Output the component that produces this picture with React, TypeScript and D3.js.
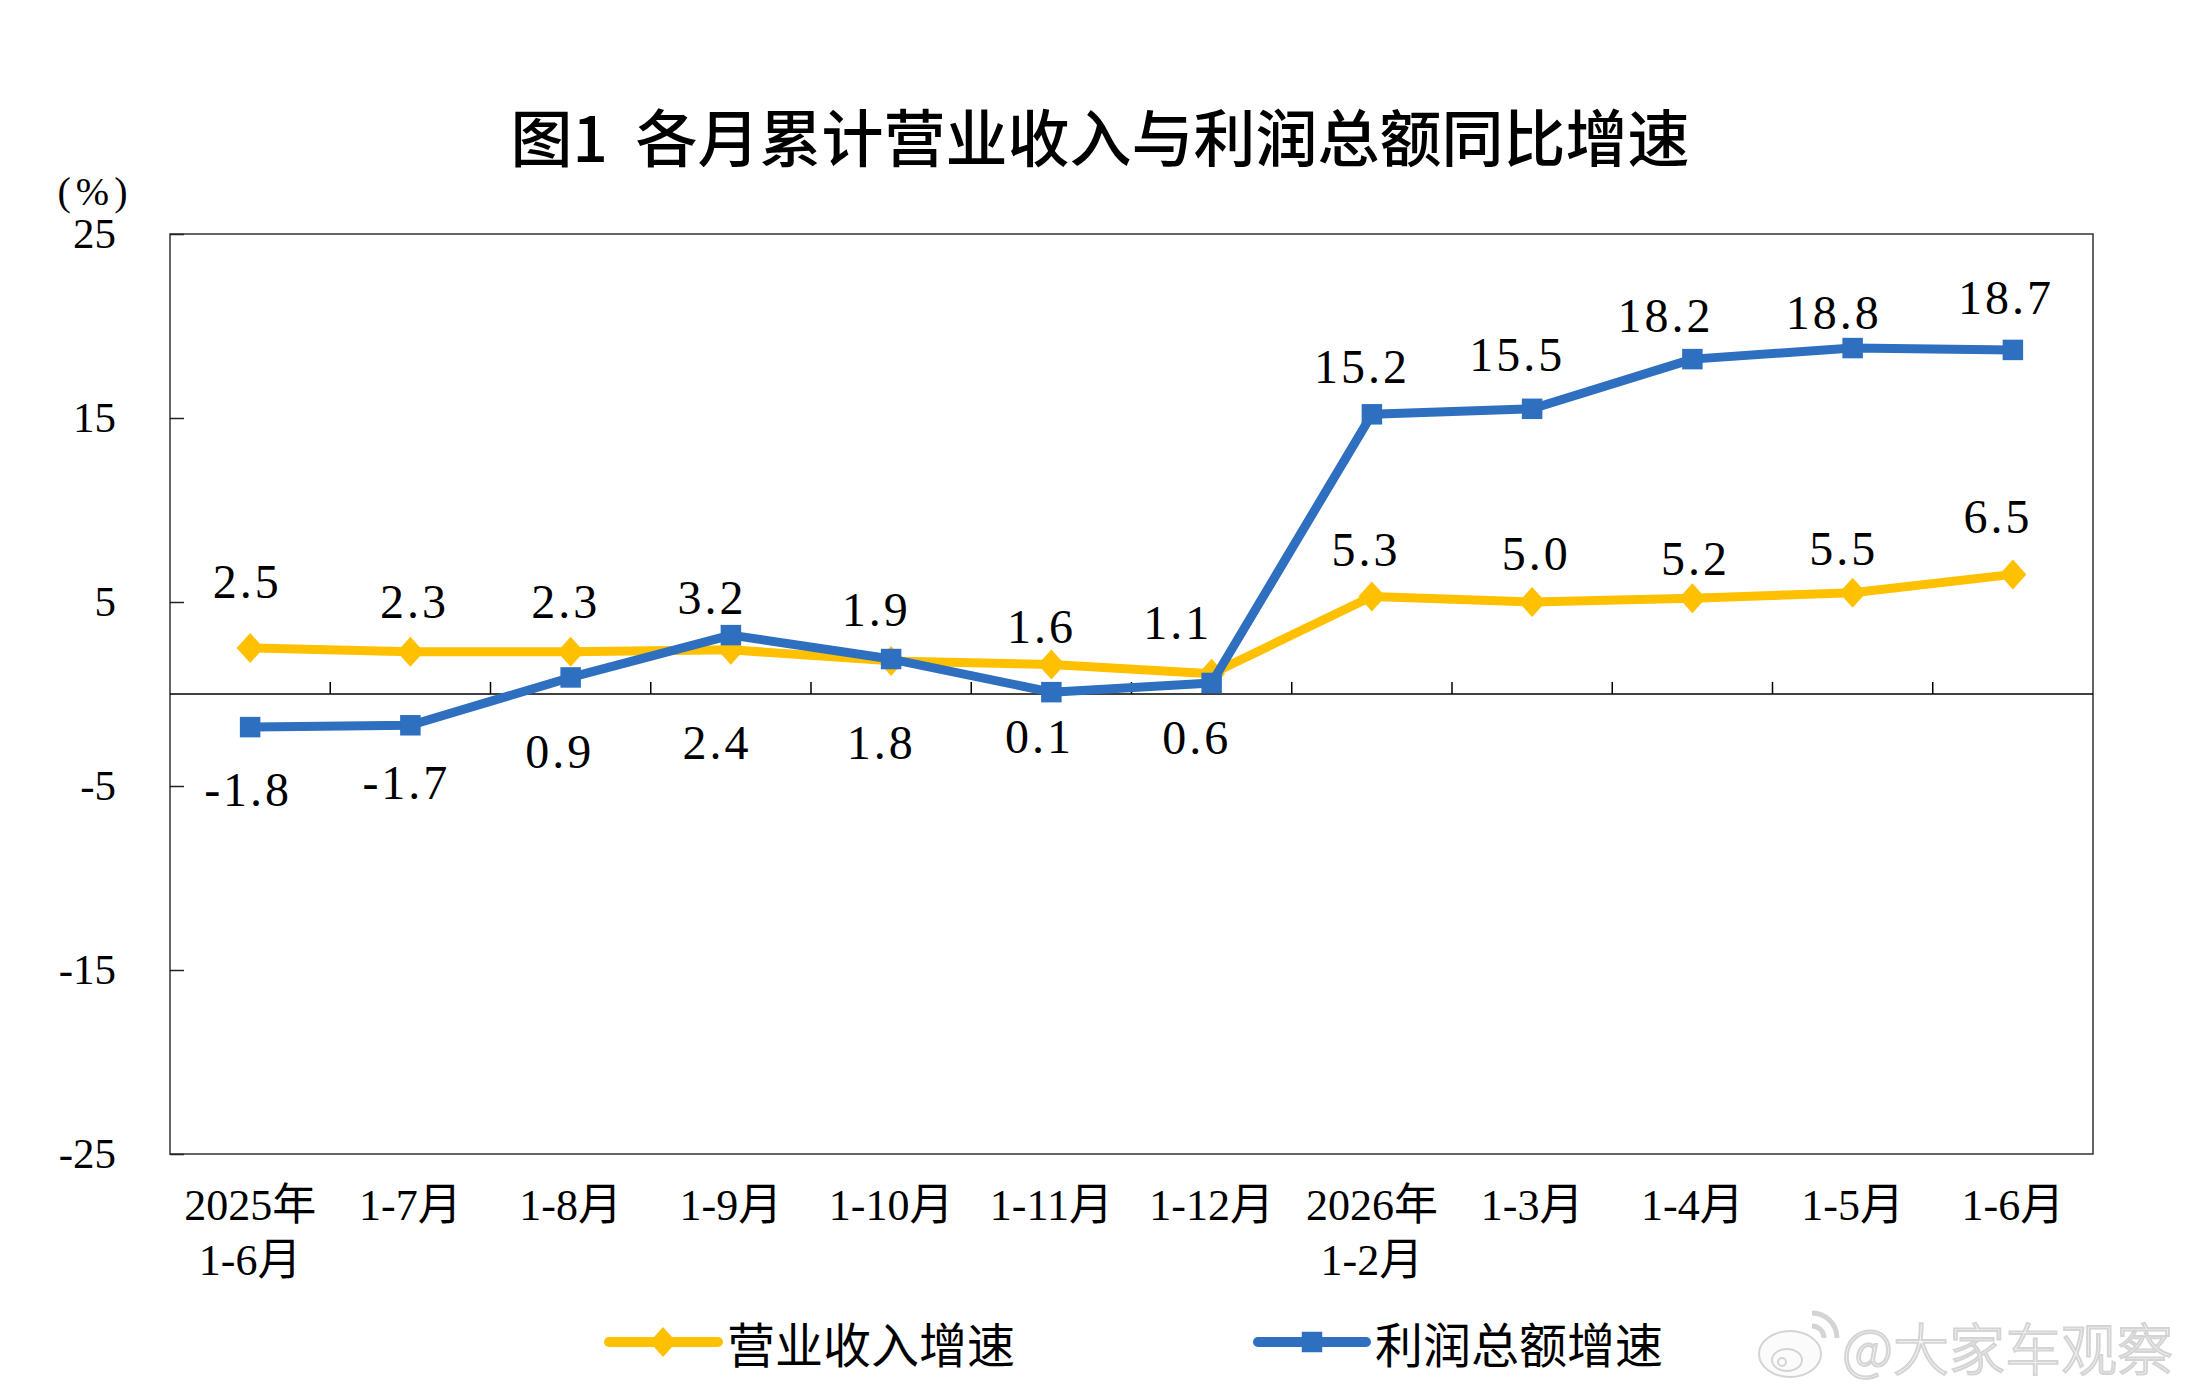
import * as d3 from "d3";
import { useEffect, useRef } from "react";

const width = 2195;
const height = 1399;

const categories = [
  "2025年\n1-6月",
  "1-7月",
  "1-8月",
  "1-9月",
  "1-10月",
  "1-11月",
  "1-12月",
  "2026年\n1-2月",
  "1-3月",
  "1-4月",
  "1-5月",
  "1-6月",
];
const revenueGrowth = [2.5, 2.3, 2.3, 2.4, 1.8, 1.6, 1.1, 5.3, 5.0, 5.2, 5.5, 6.5];
const profitGrowth = [-1.8, -1.7, 0.9, 3.2, 1.9, 0.1, 0.6, 15.2, 15.5, 18.2, 18.8, 18.7];
const yTicks = [-25, -15, -5, 5, 15, 25];
const seriesNames = ["营业收入增速", "利润总额增速"];

// label nudges (dx, dy from the point), placed by hand like the original
const revenueLabelNudge = [
  [-3, -66], [4, -50], [-5, -50], [-14, 93], [-10, 82], [-10, -38],
  [-34, -51], [-6, -46], [4, -48], [3, -39], [-9, -44], [-15, -57],
];
const profitLabelNudge = [
  [-2, 63], [-4, 58], [-11, 75], [-19, -37], [-15, -49], [-12, 45],
  [-15, 55], [-10, -47], [-15, -54], [-27, -43], [-19, -35], [-7, -52],
];

const plot = { left: 170, right: 2093, top: 234, bottom: 1154 };
const yellow = "#FFC000";
const blue = "#2E6FBF";
const serif = "'Liberation Serif', 'Times New Roman', serif";
const cjk = "'Noto Sans CJK SC', sans-serif";

const diamond = "M0,-15L13.5,0L0,15L-13.5,0Z";

export default function App() {
  const yAxisRef = useRef<SVGGElement>(null);

  const x = d3
    .scaleBand<number>()
    .domain(d3.range(categories.length))
    .range([plot.left, plot.right]);
  const y = d3.scaleLinear().domain([-25, 25]).range([plot.bottom, plot.top]);
  const cx = (i: number) => (x(i) as number) + x.bandwidth() / 2;

  const line = d3
    .line<number>()
    .x((_, i) => cx(i))
    .y((d) => y(d));

  const square = d3.symbol(d3.symbolSquare, 420)() as string;

  useEffect(() => {
    const axis = d3
      .axisLeft(y)
      .tickValues(yTicks)
      .tickSizeInner(-14)
      .tickSizeOuter(0)
      .tickPadding(54)
      .tickFormat((d) => String(d));
    const g = d3.select(yAxisRef.current!);
    g.call(axis);
    g.select(".domain").remove();
    g.attr("font-family", serif).attr("font-size", 43);
    g.selectAll(".tick line").attr("stroke", "#222").attr("stroke-width", 1.5);
    g.selectAll(".tick text").attr("fill", "#000");
  }, []);

  const y0 = y(0);

  return (
    <div>
      <style>{`body{margin:0;background:#fff}`}</style>
      <svg width={width} height={height} style={{ display: "block" }}>
        <rect width={width} height={height} fill="#fff" />

        <text
          x={1100}
          y={135}
          textAnchor="middle"
          dominantBaseline="central"
          fontFamily={cjk}
          fontWeight={500}
          fontSize={62}
          style={{ whiteSpace: "pre" }}
        >
          {"图1  各月累计营业收入与利润总额同比增速"}
        </text>

        <text
          x={95}
          y={205}
          textAnchor="middle"
          fontFamily={serif}
          fontSize={40}
          letterSpacing={5}
        >
          (%)
        </text>

        <rect
          x={plot.left}
          y={plot.top}
          width={plot.right - plot.left}
          height={plot.bottom - plot.top}
          fill="none"
          stroke="#333"
          strokeWidth={1.5}
        />
        <g ref={yAxisRef} transform={`translate(${plot.left},0)`} />

        <line x1={plot.left} x2={plot.right} y1={y0} y2={y0} stroke="#000" strokeWidth={1.5} />
        {d3.range(1, categories.length).map((i) => (
          <line
            key={i}
            x1={x(i)}
            x2={x(i)}
            y1={y0}
            y2={y0 - 12}
            stroke="#000"
            strokeWidth={1.5}
          />
        ))}

        {categories.map((c, i) => (
          <text
            key={c}
            x={cx(i)}
            y={1220}
            textAnchor="middle"
            fontFamily={`${serif.split(",")[0]}, ${cjk}`}
            fontSize={44}
          >
            {c.split("\n").map((part, j) => (
              <tspan key={j} x={cx(i)} dy={j === 0 ? 0 : 55}>
                {part}
              </tspan>
            ))}
          </text>
        ))}

        <path d={line(revenueGrowth) as string} fill="none" stroke={yellow} strokeWidth={9} strokeLinejoin="round" />
        {revenueGrowth.map((d, i) => (
          <path key={i} d={diamond} transform={`translate(${cx(i)},${y(d)})`} fill={yellow} />
        ))}

        <path d={line(profitGrowth) as string} fill="none" stroke={blue} strokeWidth={9} strokeLinejoin="round" />
        {profitGrowth.map((d, i) => (
          <path key={i} d={square} transform={`translate(${cx(i)},${y(d)})`} fill={blue} />
        ))}

        {revenueGrowth.map((d, i) => (
          <text
            key={`r${i}`}
            x={cx(i) + revenueLabelNudge[i][0]}
            y={y(d) + revenueLabelNudge[i][1] + 16}
            textAnchor="middle"
            fontFamily={serif}
            fontSize={48}
            letterSpacing={3}
          >
            {d.toFixed(1)}
          </text>
        ))}
        {profitGrowth.map((d, i) => (
          <text
            key={`p${i}`}
            x={cx(i) + profitLabelNudge[i][0]}
            y={y(d) + profitLabelNudge[i][1] + 16}
            textAnchor="middle"
            fontFamily={serif}
            fontSize={48}
            letterSpacing={3}
          >
            {d.toFixed(1)}
          </text>
        ))}

        <g>
          <line x1={609} x2={718} y1={1342} y2={1342} stroke={yellow} strokeWidth={10} strokeLinecap="round" />
          <path d={diamond} transform="translate(663,1342)" fill={yellow} />
          <text x={727} y={1342} dominantBaseline="central" fontFamily={cjk} fontSize={48}>
            {seriesNames[0]}
          </text>
          <line x1={1258} x2={1366} y1={1342} y2={1342} stroke={blue} strokeWidth={10} strokeLinecap="round" />
          <path d={square} transform="translate(1312,1342)" fill={blue} />
          <text x={1375} y={1342} dominantBaseline="central" fontFamily={cjk} fontSize={48}>
            {seriesNames[1]}
          </text>
        </g>

        <g fill="#fbfbfb" stroke="#d4d4d4" strokeWidth={2}>
          <ellipse cx={1790} cy={1354} rx={31} ry={23} />
          <ellipse cx={1787} cy={1360} rx={15} ry={11} />
          <circle cx={1782} cy={1362} r={4} />
          <path d="M1812,1326 a12,12 0 0 1 12,12" fill="none" strokeWidth={5} />
          <path d="M1812,1313 a25,25 0 0 1 25,25" fill="none" strokeWidth={5} />
          <text
            x={1842}
            y={1345}
            dominantBaseline="central"
            fontFamily={cjk}
            fontWeight={300}
            fontSize={56}
          >
            @大家车观察
          </text>
        </g>
      </svg>
    </div>
  );
}
